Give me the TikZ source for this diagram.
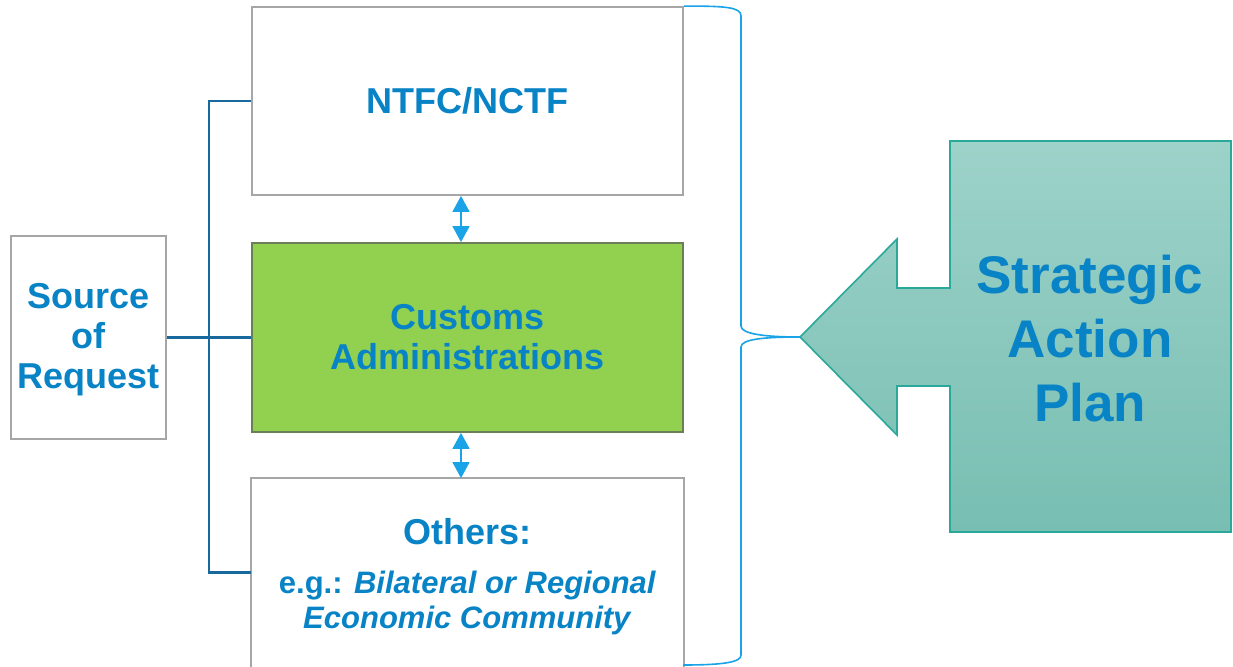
\documentclass[tikz,border=0pt]{standalone}
\usepackage{fontspec}
\setmainfont{Liberation Sans}
\usetikzlibrary{arrows.meta}
\definecolor{txtblue}{HTML}{0883C6}
\definecolor{connblue}{HTML}{17699E}
\definecolor{lightblue}{HTML}{1AA3E6}
\definecolor{boxgray}{HTML}{A6A6A6}
\definecolor{custgreen}{HTML}{92D050}
\definecolor{custedge}{HTML}{6B7F56}
\definecolor{tealedge}{HTML}{2AA89A}
\definecolor{tealtop}{HTML}{9DD2C9}
\definecolor{tealbot}{HTML}{78BEB2}
\tikzset{
  box/.style={rectangle, draw=boxgray, line width=1.8pt, fill=white, inner sep=0pt,
    minimum width=431pt, text=txtblue, align=center, font=\bfseries\fontsize{36}{40}\selectfont},
  custbox/.style={box, draw=custedge, fill=custgreen},
  boxtext/.style={text=txtblue, align=center, inner sep=0pt, font=\bfseries\fontsize{36}{40}\selectfont},
  othtext/.style={text=txtblue, align=center, inner sep=0pt, font=\bfseries\fontsize{31}{35}\selectfont},
  conn/.style={draw=connblue, line width=2.8pt},
  dblarrow/.style={draw=lightblue, line width=1.5pt, {Triangle[width=17pt,length=16pt]}-{Triangle[width=17pt,length=16pt]}},
  bracestyle/.style={draw=lightblue, line width=1.6pt},
  saptext/.style={text=txtblue, align=center, font=\bfseries\fontsize{53}{64}\selectfont}
}
\begin{document}
\begin{tikzpicture}[x=1pt,y=-1pt]
\useasboundingbox (0,0) rectangle (1233,666);
% main boxes
\node[box, minimum height=188pt] (ntfc) at (467.5,101) {NTFC/NCTF};
\node[custbox, minimum height=189pt] (cust) at (467.5,337.5) {Customs\\Administrations};
\node[box, draw=none, fill=none, minimum height=187pt] (oth) at (467.5,572.5) {};
\draw[draw=boxgray, line width=1.8pt] (oth.south west) -- (oth.north west) -- (oth.north east) -- (oth.south east);
\node[othtext] (othtxt) at (467.5,576.5)
  {{\fontsize{36}{40}\selectfont Others:}\\[14pt] e.g.: \textit{Bilateral or Regional}\\ \textit{Economic Community}};
\node[box, minimum width=155pt, minimum height=203pt] (src) at (88.5,337.5) {};
\node[boxtext] (srctxt) at (88.5,339.5) {Source\\of\\Request};
% connectors from the source
\coordinate (jn) at (209,337.5);
\draw[conn] (src.east) -- (cust.west);
\draw[conn] (ntfc.west) -| (jn) |- (oth.west);
% double arrows
\draw[dblarrow] ([xshift=-6.5pt]ntfc.south) -- ([xshift=-6.5pt]cust.north);
\draw[dblarrow] ([xshift=-6.5pt]cust.south) -- ([xshift=-6.5pt]oth.north);
% arrow shape
\coordinate (tip) at (800,337);
\shade[top color=tealtop, bottom color=tealbot]
  (tip) -- (897,239) -- (897,288) -- (950,288) -- (950,141) -- (1231,141) -- (1231,532)
  -- (950,532) -- (950,386) -- (897,386) -- (897,435) -- cycle;
\draw[tealedge, line width=1.6pt, line join=miter]
  (tip) -- (897,239) -- (897,288) -- (950,288) -- (950,141) -- (1231,141) -- (1231,532)
  -- (950,532) -- (950,386) -- (897,386) -- (897,435) -- cycle;
\node[saptext] (sap) at (1090,339) {Strategic\\Action\\Plan};
% brace
\draw[bracestyle] (ntfc.north east) .. controls (725,6) and (741,7) .. (741,16) -- (741,326)
  .. controls (741,334) and (765,337) .. (tip);
\draw[bracestyle] (tip) .. controls (765,337) and (741,339) .. (741,347) -- (741,655)
  .. controls (741,662) and (725,665) .. (683,665);
\end{tikzpicture}
\end{document}
